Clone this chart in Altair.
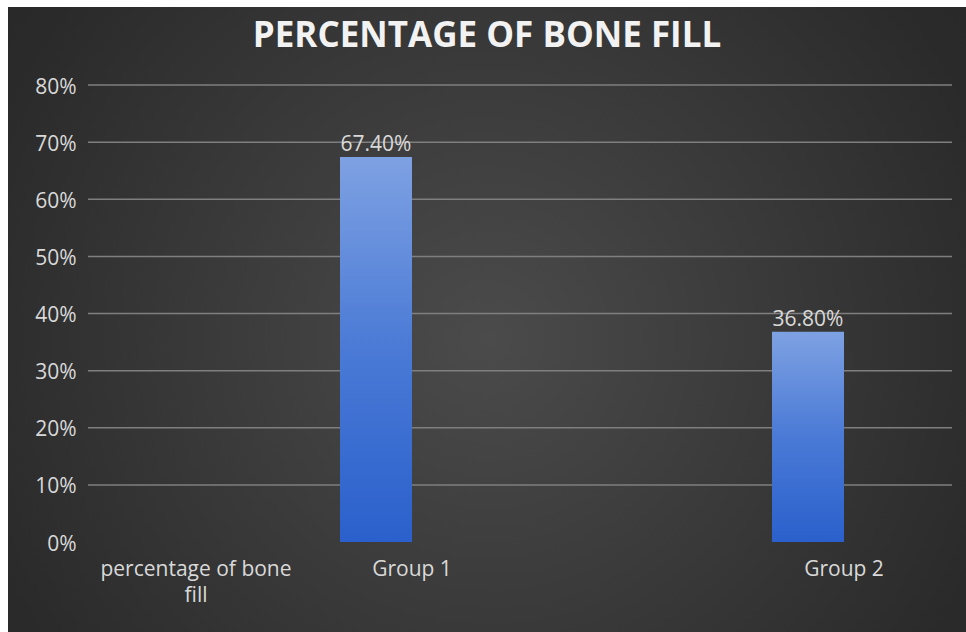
import altair as alt
import pandas as pd

# ---- data ----
groups = ["Group 1", "Group 2"]
bone_fill = [0.674, 0.368]
axis_labels = ["percentage of bone\nfill", "Group 1", "Group 2"]
y_ticks = [0.1, 0.2, 0.3, 0.4, 0.5, 0.6, 0.7, 0.8]
title_text = "PERCENTAGE OF BONE FILL"

# ---- layout (slot units along a 0..12 horizontal scale) ----
bar_slots = [4, 10]
label_slots = [1.5, 4.5, 10.5]
W, H = 864, 457
PAD = {"left": 88, "top": 85, "right": 14, "bottom": 90}
FONT = "Open Sans"
TEXT_COLOR = "#d9d9d9"
TEXT_SIZE = 21

bars_df = pd.DataFrame({"group": groups, "value": bone_fill, "slot": bar_slots})
labels_df = pd.DataFrame({"label": axis_labels, "slot": label_slots})
grid_df = pd.DataFrame({"tick": y_ticks})
one_row = pd.DataFrame({"k": [0]})

x_scale = alt.Scale(domain=[0, 12], nice=False, zero=False, padding=0)
y_scale = alt.Scale(domain=[0, 0.8], nice=False, padding=0)

y_axis = alt.Axis(
    values=[0] + y_ticks, format=".0%", title=None, grid=False,
    domain=False, ticks=False, labelColor=TEXT_COLOR,
    labelFont=FONT, labelFontSize=TEXT_SIZE, labelPadding=12,
    labelOffset=2, zindex=1,
)

# dark panel with a soft radial glow
background = alt.Chart(one_row).mark_rect(
    fill=alt.Gradient(
        gradient="radial",
        stops=[alt.GradientStop(color="#4b4b4b", offset=0),
               alt.GradientStop(color="#2a2a2a", offset=0.75),
               alt.GradientStop(color="#262626", offset=1)],
        x1=0.5, y1=0.52, r1=0, x2=0.5, y2=0.52, r2=0.75,
    )
).encode(
    x=alt.value(8 - PAD["left"]),
    x2=alt.value(966 - PAD["left"]),
    y=alt.value(7 - PAD["top"]),
    y2=alt.value(632 - PAD["top"]),
)

grid = alt.Chart(grid_df).mark_rule(color="#7f7f7f", strokeWidth=1.5).encode(
    y=alt.Y("tick:Q", scale=y_scale, axis=y_axis),
    x=alt.value(0),
    x2=alt.value(W),
)

bars = alt.Chart(bars_df).transform_calculate(
    x0="datum.slot - 0.5", x1="datum.slot + 0.5"
).mark_bar(
    color=alt.Gradient(
        gradient="linear",
        stops=[alt.GradientStop(color="#7ea1e2", offset=0),
               alt.GradientStop(color="#4a7ad6", offset=0.5),
               alt.GradientStop(color="#2b60cc", offset=1)],
        x1=0, x2=0, y1=0, y2=1,
    )
).encode(
    x=alt.X("x0:Q", scale=x_scale, axis=None),
    x2="x1:Q",
    y=alt.Y("value:Q", scale=y_scale, axis=y_axis),
    y2=alt.datum(0),
)

value_labels = alt.Chart(bars_df).mark_text(
    font=FONT, fontSize=TEXT_SIZE, color=TEXT_COLOR, baseline="alphabetic", dy=-6
).encode(
    x=alt.X("slot:Q", scale=x_scale, axis=None),
    y=alt.Y("value:Q", scale=y_scale, axis=y_axis),
    text=alt.Text("value:Q", format=".2%"),
)

category_labels = alt.Chart(labels_df).mark_text(
    font=FONT, fontSize=TEXT_SIZE, color=TEXT_COLOR, baseline="alphabetic",
    lineBreak="\n", lineHeight=26,
).encode(
    x=alt.X("slot:Q", scale=x_scale, axis=None),
    y=alt.value(H + 34),
    text="label:N",
)

title = alt.Chart(one_row).mark_text(
    text=title_text, font=FONT, fontSize=35, fontWeight="bold",
    color="#f2f2f2", baseline="alphabetic", align="center",
).encode(
    x=alt.value(487 - PAD["left"]),
    y=alt.value(47 - PAD["top"]),
)

chart = alt.layer(
    background, grid, bars, value_labels, category_labels, title
).properties(
    width=W, height=H, padding=PAD,
    autosize=alt.AutoSizeParams(type="none"),
    background="white",
).configure_view(stroke=None)

chart.save("out.html", embed_options={"renderer": "svg", "actions": False})
